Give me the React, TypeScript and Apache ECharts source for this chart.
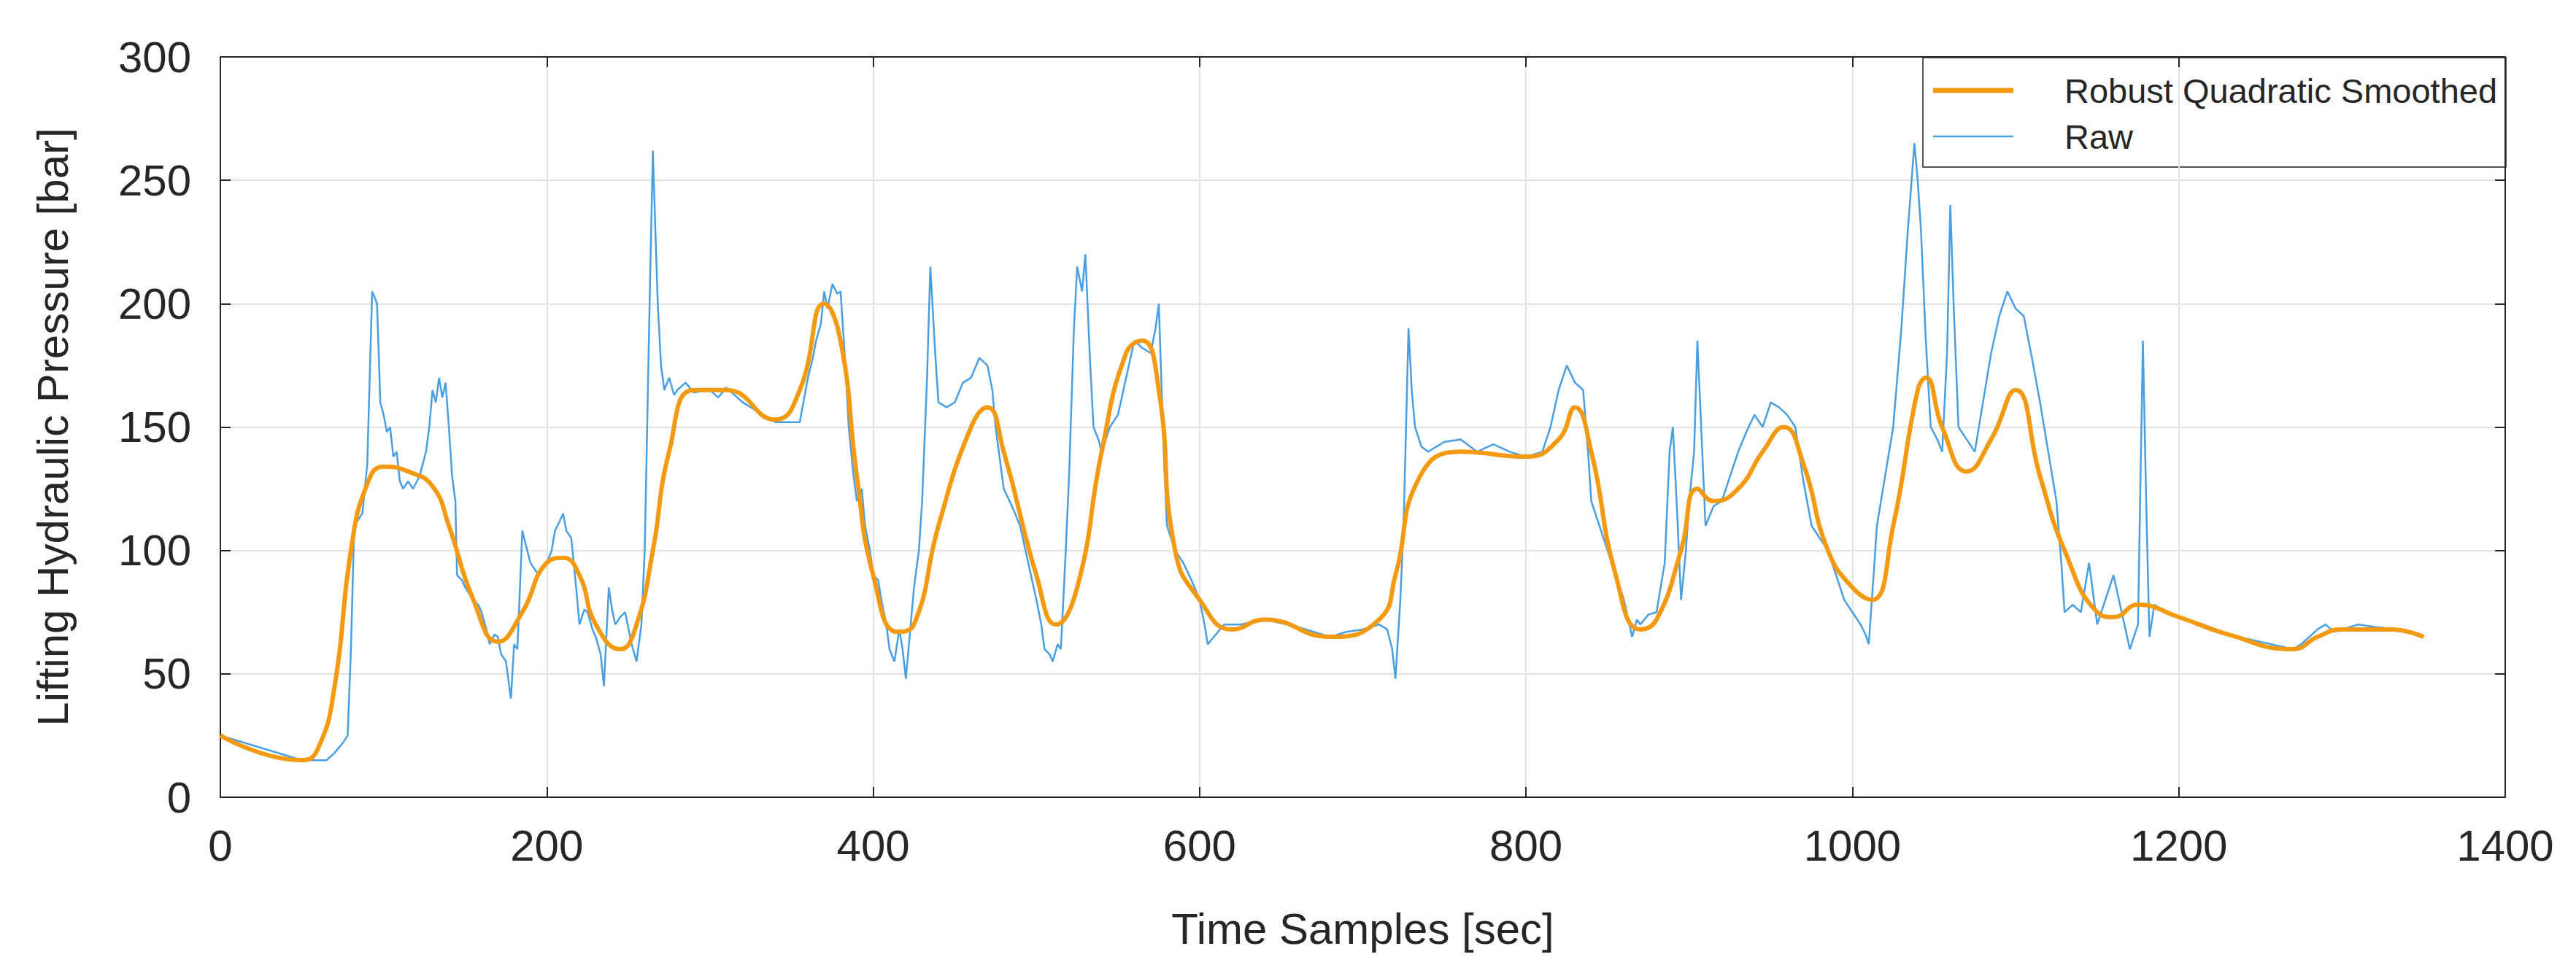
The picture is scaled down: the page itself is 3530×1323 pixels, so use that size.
import React, { useEffect, useRef } from 'react';
import * as echarts from 'echarts';

// Robust quadratic smoothed curve: [sample, bar]
const smoothed: [number, number][] = [
  [0, 25], [50, 15], [60, 20], [70, 45], [80, 100], [90, 127], [100, 134], [115, 132], [130, 126],
  [140, 110], [155, 80], [170, 63], [185, 75], [200, 95], [210, 97], [220, 90], [230, 70], [245, 60],
  [255, 70], [265, 100], [275, 140], [290, 165], [310, 165], [340, 153], [355, 165], [370, 200],
  [380, 185], [390, 130], [400, 90], [415, 67], [425, 70], [440, 110], [460, 150], [470, 158],
  [480, 140], [500, 90], [512, 70], [525, 85], [540, 140], [555, 180], [565, 185], [575, 165],
  [585, 100], [600, 80], [620, 68], [640, 72], [680, 65], [710, 72], [720, 90], [735, 130],
  [760, 140], [800, 138], [820, 145], [830, 158], [840, 140], [855, 90], [870, 68], [880, 72],
  [895, 100], [905, 125], [915, 120], [930, 125], [945, 140], [958, 150], [970, 135], [985, 100],
  [1000, 85], [1012, 80], [1025, 110], [1040, 165], [1045, 170], [1055, 150], [1070, 132],
  [1085, 145], [1100, 165], [1115, 130], [1130, 100], [1150, 75], [1160, 73], [1175, 78],
  [1200, 73], [1230, 66], [1270, 60], [1285, 65], [1300, 68], [1330, 68], [1350, 65],
];

// Raw pressure signal: [sample, bar]
const raw: [number, number][] = [
  [0, 25], [50, 15], [65, 15], [70, 18], [75, 22], [78, 25], [80, 60], [82, 110], [85, 113], [87, 115],
  [90, 135], [93, 205], [96, 200], [98, 160], [100, 155], [102, 148], [104, 150], [106, 138], [108, 140],
  [110, 128], [112, 125], [115, 128], [118, 125], [122, 130], [126, 140], [128, 150], [130, 165],
  [132, 160], [134, 170], [136, 162], [138, 168], [140, 150], [142, 130], [144, 120], [145, 90],
  [148, 88], [150, 85], [153, 82], [155, 80], [158, 78], [160, 75], [163, 68], [165, 62], [168, 66],
  [170, 65], [172, 58], [175, 55], [178, 40], [180, 62], [182, 60], [185, 108], [188, 100], [190, 95],
  [193, 92], [195, 90], [198, 94], [200, 95], [203, 100], [205, 108], [208, 112], [210, 115],
  [212, 108], [215, 105], [218, 85], [220, 70], [223, 76], [225, 75], [228, 68], [230, 65], [233, 58],
  [235, 45], [238, 85], [240, 76], [242, 70], [245, 73], [248, 75], [252, 62], [255, 55], [258, 70],
  [260, 100], [263, 200], [265, 262], [267, 220], [268, 200], [270, 175], [272, 165], [275, 170],
  [278, 163], [280, 165], [285, 168], [290, 164], [300, 165], [305, 162], [310, 166], [320, 160],
  [340, 152], [355, 152], [360, 170], [363, 178], [365, 185], [368, 192], [370, 205], [372, 198],
  [375, 208], [378, 204], [380, 205], [383, 175], [385, 150], [388, 130], [390, 120], [393, 125],
  [395, 110], [398, 100], [400, 90], [403, 88], [405, 80], [408, 70], [410, 60], [413, 55], [416, 68],
  [418, 60], [420, 48], [423, 70], [425, 85], [428, 100], [430, 120], [433, 170], [435, 215],
  [438, 180], [440, 160], [445, 158], [450, 160], [455, 168], [460, 170], [465, 178], [470, 175],
  [473, 165], [475, 150], [478, 135], [480, 125], [485, 118], [490, 110], [495, 95], [500, 80],
  [503, 70], [505, 60], [508, 58], [510, 55], [513, 62], [515, 60], [518, 100], [520, 130],
  [523, 190], [525, 215], [528, 205], [530, 220], [533, 175], [535, 150], [538, 145], [540, 140],
  [545, 150], [550, 155], [555, 170], [560, 185], [565, 182], [570, 180], [573, 190], [575, 200],
  [578, 140], [580, 110], [583, 104], [585, 100], [588, 97], [590, 95], [595, 88], [600, 80],
  [603, 70], [605, 62], [610, 66], [615, 70], [625, 70], [640, 72], [660, 69], [680, 65], [690, 67],
  [700, 68], [710, 70], [715, 68], [718, 60], [720, 48], [723, 80], [725, 110], [728, 190], [730, 165],
  [732, 150], [736, 142], [740, 140], [750, 144], [760, 145], [770, 140], [780, 143], [790, 140],
  [800, 138], [810, 140], [815, 150], [820, 165], [825, 175], [830, 168], [835, 165], [838, 140],
  [840, 120], [845, 110], [850, 100], [855, 90], [860, 80], [865, 65], [868, 72], [870, 70],
  [875, 74], [880, 75], [885, 95], [888, 140], [890, 150], [893, 110], [895, 80], [898, 100],
  [900, 120], [903, 140], [905, 185], [908, 140], [910, 110], [915, 118], [920, 120], [925, 130],
  [930, 140], [935, 148], [940, 155], [945, 150], [950, 160], [955, 158], [960, 155], [965, 150],
  [970, 128], [975, 110], [980, 105], [985, 100], [990, 90], [995, 80], [1000, 75], [1005, 70],
  [1008, 66], [1010, 62], [1013, 90], [1015, 110], [1020, 130], [1025, 150], [1030, 190],
  [1034, 230], [1038, 265], [1040, 250], [1042, 230], [1045, 185], [1048, 150], [1052, 145],
  [1055, 140], [1058, 180], [1060, 240], [1062, 200], [1065, 150], [1070, 145], [1075, 140],
  [1080, 160], [1085, 180], [1090, 195], [1095, 205], [1100, 198], [1105, 195], [1110, 178],
  [1115, 160], [1120, 140], [1125, 120], [1128, 95], [1130, 75], [1135, 78], [1140, 75], [1145, 95],
  [1148, 80], [1150, 70], [1155, 80], [1160, 90], [1165, 75], [1170, 60], [1173, 66], [1175, 70],
  [1178, 185], [1180, 120], [1182, 65], [1185, 78], [1190, 76], [1200, 73], [1215, 70], [1230, 66],
  [1250, 63], [1270, 60], [1275, 62], [1280, 65], [1285, 68], [1290, 70], [1295, 67], [1300, 68],
  [1310, 70], [1320, 69], [1335, 68], [1350, 65],
];

const FONT = 'Arial, "Liberation Sans", sans-serif';
const TXT = '#262626';
const ORANGE = '#f39a12';
const BLUE = '#4a9fe3';

const App: React.FC = () => {
  const chartRef = useRef<HTMLDivElement>(null);

  useEffect(() => {
    if (!chartRef.current) return;
    const chart = echarts.init(chartRef.current, undefined, { renderer: 'svg' });

    const tick = { show: true, inside: true, length: 14, lineStyle: { color: '#262626', width: 2 } };
    const frame = { show: true, onZero: false, lineStyle: { color: '#262626', width: 2 } };
    const split = { show: true, lineStyle: { color: '#e3e3e3', width: 2 } };

    chart.setOption({
      animation: false,
      textStyle: { fontFamily: FONT },
      grid: { left: 302, right: 97, top: 78, bottom: 230 },
      graphic: [
        {
          type: 'group', left: 2634, top: 78, z: 100,
          children: [
            { type: 'rect', shape: { x: 0, y: 0, width: 799, height: 150 }, style: { fill: '#fff', stroke: '#555', lineWidth: 2 } },
            { type: 'line', shape: { x1: 14, y1: 45, x2: 124, y2: 45 }, style: { stroke: ORANGE, lineWidth: 7 } },
            { type: 'line', shape: { x1: 14, y1: 108, x2: 124, y2: 108 }, style: { stroke: BLUE, lineWidth: 2.5 } },
            { type: 'text', x: 194, y: 45, style: { text: 'Robust Quadratic Smoothed', fontSize: 47, fontFamily: FONT, fill: TXT, verticalAlign: 'middle' } },
            { type: 'text', x: 194, y: 108, style: { text: 'Raw', fontSize: 47, fontFamily: FONT, fill: TXT, verticalAlign: 'middle' } },
          ],
        },
      ],
      xAxis: [
        {
          type: 'value', min: 0, max: 1400, interval: 200,
          name: 'Time Samples [sec]', nameLocation: 'middle', nameGap: 150,
          nameTextStyle: { fontSize: 60, color: TXT },
          axisLabel: { fontSize: 60, color: TXT, margin: 36, formatter: (v: number) => String(v) },
          axisLine: frame, axisTick: tick, splitLine: split,
        },
        {
          type: 'value', min: 0, max: 1400, interval: 200, position: 'top',
          axisLabel: { show: false }, axisLine: frame, axisTick: tick, splitLine: { show: false },
        },
      ],
      yAxis: [
        {
          type: 'value', min: 0, max: 300, interval: 50,
          name: 'Lifting Hydraulic Pressure [bar]', nameLocation: 'middle', nameGap: 200,
          nameTextStyle: { fontSize: 60, color: TXT },
          axisLabel: { fontSize: 60, color: TXT, margin: 40 },
          axisLine: frame, axisTick: tick, splitLine: split,
        },
        {
          type: 'value', min: 0, max: 300, interval: 50, position: 'right',
          axisLabel: { show: false }, axisLine: frame, axisTick: tick, splitLine: { show: false },
        },
      ],
      series: [
        {
          name: 'Raw', type: 'line', data: raw, showSymbol: false, symbol: 'none', z: 2,
          lineStyle: { color: BLUE, width: 2.5 },
        },
        {
          name: 'Robust Quadratic Smoothed', type: 'line', data: smoothed, smooth: 0.5,
          showSymbol: false, symbol: 'none', z: 3,
          lineStyle: { color: ORANGE, width: 6 },
        },
      ],
    });

    return () => chart.dispose();
  }, []);

  return (
    <div
      ref={chartRef}
      style={{ position: 'absolute', left: 0, top: 0, width: 3530, height: 1323, background: '#fff' }}
    />
  );
};

export default App;
